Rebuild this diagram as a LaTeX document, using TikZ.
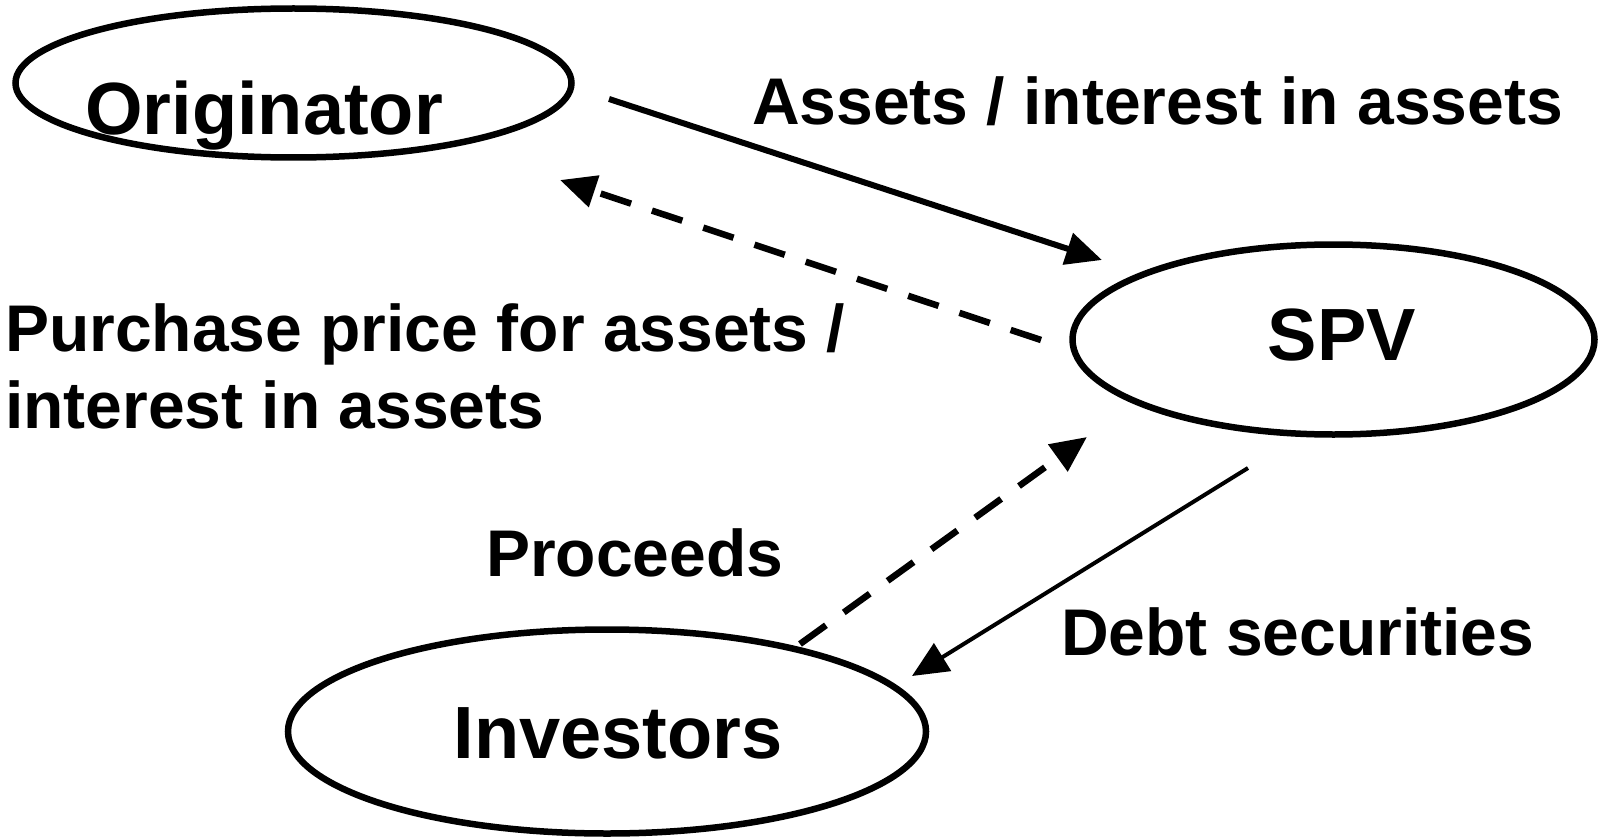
\documentclass[tikz,border=0pt]{standalone}
\usepackage{fontspec}
\setmainfont{Liberation Sans}
\usetikzlibrary{shapes.geometric,arrows.meta}
\begin{document}
\begin{tikzpicture}[x=1pt,y=-1pt,
  party/.style={ellipse,draw,line width=6.5pt,inner sep=0pt},
  partytext/.style={anchor=base,inner sep=0pt,font=\fontsize{74}{80}\selectfont\bfseries},
  flowtext/.style={anchor=base west,inner sep=0pt,font=\fontsize{66}{77}\selectfont\bfseries},
  tip/.style={-{Triangle[length=36pt,width=32pt]}},
  flow/.style={tip,line width=6pt},
  thinflow/.style={tip,line width=4pt},
  payment/.style={tip,line width=6.5pt,dash pattern=on 32pt off 22pt},
]
\useasboundingbox (0,0) rectangle (1604,840);

% the three parties
\node[party,minimum width=556pt,minimum height=149pt] (orig) at (293.5,83) {};
\node[party,minimum width=522pt,minimum height=190pt] (spv) at (1333.5,339.5) {};
\node[party,minimum width=638pt,minimum height=204pt] (inv) at (607,731.5) {};

\node[partytext] (origtext) at (264,135) {Originator};
\node[partytext] (spvtext) at (1342,360) {SPV};
\node[partytext] (invtext) at (618,758) {Investors};

% free ends of the flows
\coordinate (o-out) at (609,99);
\coordinate (s-in) at (1102,260);
\coordinate (s-out) at (1041,340);
\coordinate (o-in) at (560,180);
\coordinate (i-out) at (800,644);
\coordinate (s-in2) at (1087,437);
\coordinate (s-out2) at (1248,468);
\coordinate (i-in) at (912,676);

% flows
\draw[flow] (o-out) -- (s-in);
\draw[payment] (s-out) -- (o-in);
\draw[payment] (i-out) -- (s-in2);
\draw[thinflow] (s-out2) -- (i-in);

% flow labels
\node[flowtext] (assets) at (752,125) {Assets / interest in assets};
\node[flowtext] (price1) at (5,351) {Purchase price for assets /};
\node[flowtext] (price2) at (5,428) {interest in assets};
\node[flowtext] (proceeds) at (486,576) {Proceeds};
\node[flowtext] (debt) at (1061,655) {Debt securities};
\end{tikzpicture}
\end{document}
